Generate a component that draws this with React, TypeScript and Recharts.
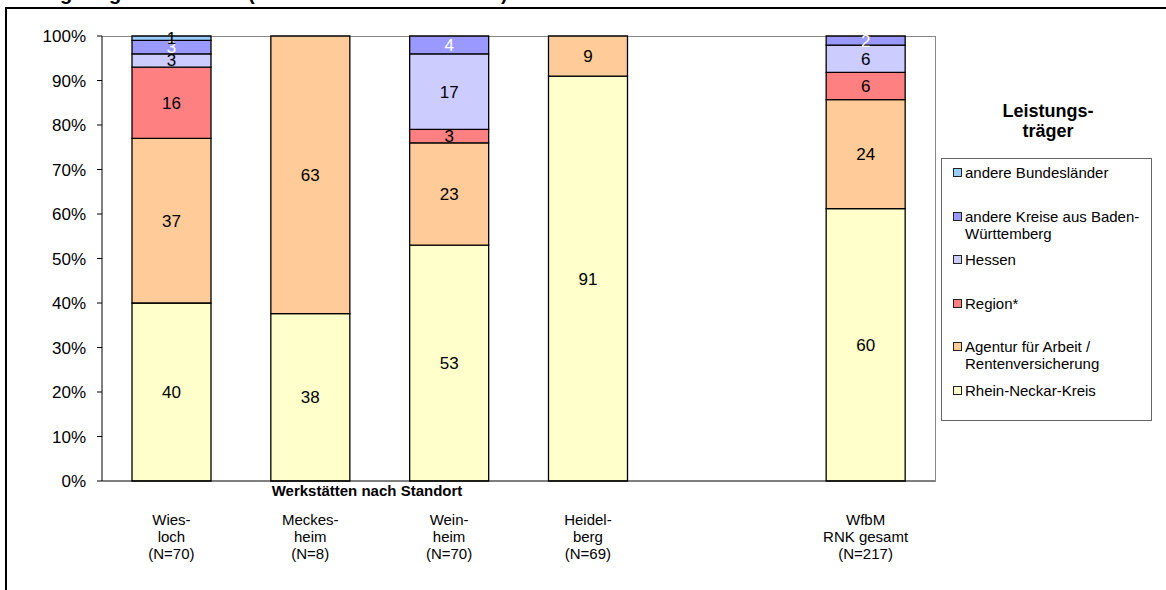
import React from "react";
import { BarChart, Bar, XAxis, YAxis, LabelList } from "recharts";

// Werkstatt-Standorte; the empty entry leaves a gap before the total column
const categories = [
  "Wies-|loch|(N=70)",
  "Meckes-|heim|(N=8)",
  "Wein-|heim|(N=70)",
  "Heidel-|berg|(N=69)",
  "",
  "WfbM|RNK gesamt|(N=217)",
];

// Anteile je Leistungsträger (Prozent, gerundet)
const rheinNeckarKreis = [40, 38, 53, 91, null, 60];
const agenturRente = [37, 63, 23, 9, null, 24];
const regionStern = [16, null, 3, null, null, 6];
const hessen = [3, null, 17, null, null, 6];
const kreiseBW = [3, null, 4, null, null, 2];
const andereLaender = [1, null, null, null, null, null];

const yTicks = [0, 0.1, 0.2, 0.3, 0.4, 0.5, 0.6, 0.7, 0.8, 0.9, 1];

const series = [
  { key: "rnk", name: ["Rhein-Neckar-Kreis"], values: rheinNeckarKreis, color: "#FFFFCC", text: "#000" },
  { key: "aa", name: ["Agentur für Arbeit /", "Rentenversicherung"], values: agenturRente, color: "#FFCC99", text: "#000" },
  { key: "reg", name: ["Region*"], values: regionStern, color: "#FF8080", text: "#000" },
  { key: "hes", name: ["Hessen"], values: hessen, color: "#CCCCFF", text: "#000" },
  { key: "bw", name: ["andere Kreise aus Baden-", "Württemberg"], values: kreiseBW, color: "#9999FF", text: "#FFF" },
  { key: "abl", name: ["andere Bundesländer"], values: andereLaender, color: "#99CCFF", text: "#000" },
];

const data = categories.map((name, i) => {
  const row: any = { name };
  series.forEach((s) => {
    row[s.key] = s.values[i];
  });
  return row;
});

const FONT = "'Liberation Sans', Arial, sans-serif";

const CategoryTick = (props: any) => {
  const { x, y, payload } = props;
  const lines = String(payload.value).split("|").filter(Boolean);
  return (
    <text x={x} y={y + 44} textAnchor="middle" fontSize={15} fill="#000" fontFamily={FONT}>
      {lines.map((l, i) => (
        <tspan key={i} x={x} dy={i === 0 ? 0 : 17}>
          {l}
        </tspan>
      ))}
    </text>
  );
};

const segmentLabel = (color: string) => (props: any) => {
  const vb = props.viewBox || props;
  const { value } = props;
  if (value == null) return null;
  return (
    <text
      x={vb.x + vb.width / 2}
      y={vb.y + vb.height / 2}
      dy={6}
      textAnchor="middle"
      fontSize={17}
      fill={color}
      fontFamily={FONT}
    >
      {value}
    </text>
  );
};

const App = () => {
  return (
    <div
      style={{
        position: "absolute",
        left: 0,
        top: 0,
        width: 1166,
        height: 590,
        overflow: "hidden",
        background: "#fff",
        fontFamily: FONT,
      }}
    >
      <div
        style={{
          position: "absolute",
          left: -11,
          top: -17,
          fontSize: 20,
          lineHeight: "20px",
          fontWeight: "bold",
          whiteSpace: "nowrap",
        }}
      >
        Leistungsträger in Prozent (nach Werkstattstandorten)
      </div>
      <div
        style={{
          position: "absolute",
          left: 5,
          top: 7,
          width: 1300,
          height: 700,
          border: "2px solid #000",
        }}
      />
      {/* grauer Rahmen der Zeichenfläche oben und rechts */}
      <div
        style={{
          position: "absolute",
          left: 102,
          top: 36,
          width: 834,
          height: 446,
          boxSizing: "border-box",
          borderTop: "1px solid #888",
          borderRight: "1px solid #888",
        }}
      />
      <div style={{ position: "absolute", left: 0, top: 0 }}>
        <BarChart
          width={1166}
          height={590}
          data={data}
          stackOffset="expand"
          margin={{ top: 36, right: 231, bottom: 9, left: 42 }}
        >
          <XAxis
            dataKey="name"
            stroke="#000"
            tickLine={false}
            tickSize={0}
            tickMargin={0}
            height={100}
            interval={0}
            tick={<CategoryTick />}
          />
          <YAxis
            type="number"
            domain={[0, 1]}
            ticks={yTicks}
            width={60}
            stroke="#000"
            tickSize={5}
            tickMargin={11}
            tick={{ fill: "#000", fontSize: 17, fontFamily: FONT }}
            tickFormatter={(v: number) => `${Math.round(v * 100)}%`}
            interval={0}
          />
          {series.map((s) => (
            <Bar
              key={s.key}
              dataKey={s.key}
              stackId="a"
              fill={s.color}
              stroke="#000"
              strokeWidth={1.3}
              barSize={79}
              isAnimationActive={false}
            >
              <LabelList dataKey={s.key} content={segmentLabel(s.text)} />
            </Bar>
          ))}
        </BarChart>
      </div>
      <div
        style={{
          position: "absolute",
          left: 267,
          top: 482,
          width: 200,
          textAlign: "center",
          fontSize: 15,
          fontWeight: "bold",
          lineHeight: "18px",
        }}
      >
        Werkstätten nach Standort
      </div>
      <div
        style={{
          position: "absolute",
          left: 948,
          top: 101,
          width: 200,
          textAlign: "center",
          fontSize: 18,
          fontWeight: "bold",
          lineHeight: "20px",
        }}
      >
        Leistungs-
        <br />
        träger
      </div>
      <div
        style={{
          position: "absolute",
          left: 941,
          top: 158,
          width: 211,
          height: 263,
          boxSizing: "border-box",
          border: "1px solid #666",
        }}
      >
        {[...series].reverse().map((s, i) => (
          <div
            key={s.key}
            style={{
              position: "absolute",
              left: 11,
              top: 5 + i * 43.6,
              fontSize: 15,
              lineHeight: "17px",
              whiteSpace: "nowrap",
            }}
          >
            <span
              style={{
                position: "absolute",
                left: 0,
                top: 4,
                width: 7,
                height: 7,
                background: s.color,
                border: "1px solid #222",
              }}
            />
            <div style={{ marginLeft: 12 }}>
              {s.name.map((line, j) => (
                <div key={j}>{line}</div>
              ))}
            </div>
          </div>
        ))}
      </div>
    </div>
  );
};

export default App;
